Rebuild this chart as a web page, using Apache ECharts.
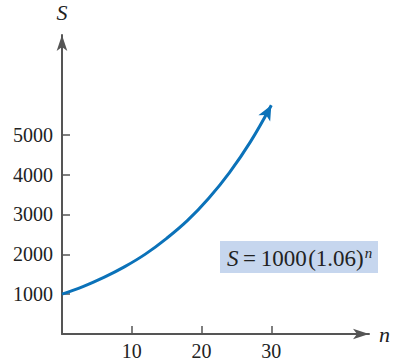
<!DOCTYPE html>
<html>
<head>
<meta charset="utf-8">
<script src="https://cdn.jsdelivr.net/npm/echarts@6/dist/echarts.min.js"></script>
<style>
  html, body { margin: 0; padding: 0; background: #fff; }
  #chart { width: 393px; height: 361px; }
</style>
</head>
<body>
<div id="chart"></div>
<script>
// values
const years = [0, 3, 6, 9, 12, 15, 18, 21, 24, 27, 30];
const amounts = [1000, 1190, 1420, 1690, 2010, 2400, 2850, 3400, 4050, 4820, 5740];
const yTicks = [1000, 2000, 3000, 4000, 5000];
const xTicks = [10, 20, 30];

const serif = '"Liberation Serif", "DejaVu Serif", serif';
const axisColor = '#555';

const chart = echarts.init(document.getElementById('chart'), null, {renderer: 'svg'});

const seriesData = years.map((n, i) => {
  if (i === years.length - 1) {
    // arrow head at the end of the curve
    return {
      value: [n, amounts[i]],
      symbol: 'arrow',
      symbolSize: [10, 15],
      symbolRotate: -28,
      itemStyle: {color: '#0b72b9'}
    };
  }
  return [n, amounts[i]];
});

const option = {
  animation: false,
  grid: {left: 62, right: 23, top: 35, bottom: 26},
  xAxis: {
    type: 'value',
    min: 0,
    max: 44,
    name: 'n',
    nameLocation: 'end',
    nameGap: 10,
    nameTextStyle: {fontFamily: serif, fontStyle: 'italic', fontSize: 22, color: '#222', verticalAlign: 'middle'},
    splitLine: {show: false},
    axisLine: {
      lineStyle: {color: axisColor, width: 2},
      symbol: ['none', 'arrow'],
      symbolSize: [8, 16]
    },
    axisTick: {inside: true, length: 8, customValues: xTicks, lineStyle: {color: axisColor, width: 1.5}},
    axisLabel: {customValues: xTicks, margin: 7, fontFamily: serif, fontSize: 20, color: '#222'}
  },
  yAxis: {
    type: 'value',
    min: 0,
    max: 7500,
    name: 'S',
    nameLocation: 'end',
    nameGap: 12,
    nameTextStyle: {fontFamily: serif, fontStyle: 'italic', fontSize: 22, color: '#222', align: 'center'},
    splitLine: {show: false},
    axisLine: {
      lineStyle: {color: axisColor, width: 2},
      symbol: ['none', 'arrow'],
      symbolSize: [8, 16]
    },
    axisTick: {inside: true, length: 8, customValues: yTicks, lineStyle: {color: axisColor, width: 1.5}},
    axisLabel: {
      customValues: yTicks,
      margin: 9,
      fontFamily: serif,
      fontSize: 20,
      color: '#222',
      formatter: (v) => String(v)
    }
  },
  graphic: [
    {
      type: 'rect',
      left: 220,
      top: 241,
      shape: {width: 158, height: 32},
      style: {fill: '#c6d6ee'}
    },
    {
      type: 'text',
      left: 227,
      top: 245,
      style: {
        text: '{i|S}{eq|\u2009=\u2009}1000{sp| }(1.06){sup|n}',
        fontFamily: serif,
        fontSize: 23,
        fill: '#222',
        rich: {
          i: {fontFamily: serif, fontStyle: 'italic', fontSize: 23},
          eq: {fontFamily: serif, fontSize: 23},
          sp: {fontFamily: serif, fontSize: 6},
          sup: {fontFamily: serif, fontStyle: 'italic', fontSize: 15, verticalAlign: 'top', padding: [0, 0, 11, 1]}
        }
      }
    }
  ],
  series: [
    {
      type: 'line',
      smooth: 0.4,
      symbol: 'none',
      data: seriesData,
      lineStyle: {color: '#0b72b9', width: 3},
      itemStyle: {color: '#0b72b9'}
    }
  ]
};

chart.setOption(option);
</script>
</body>
</html>
